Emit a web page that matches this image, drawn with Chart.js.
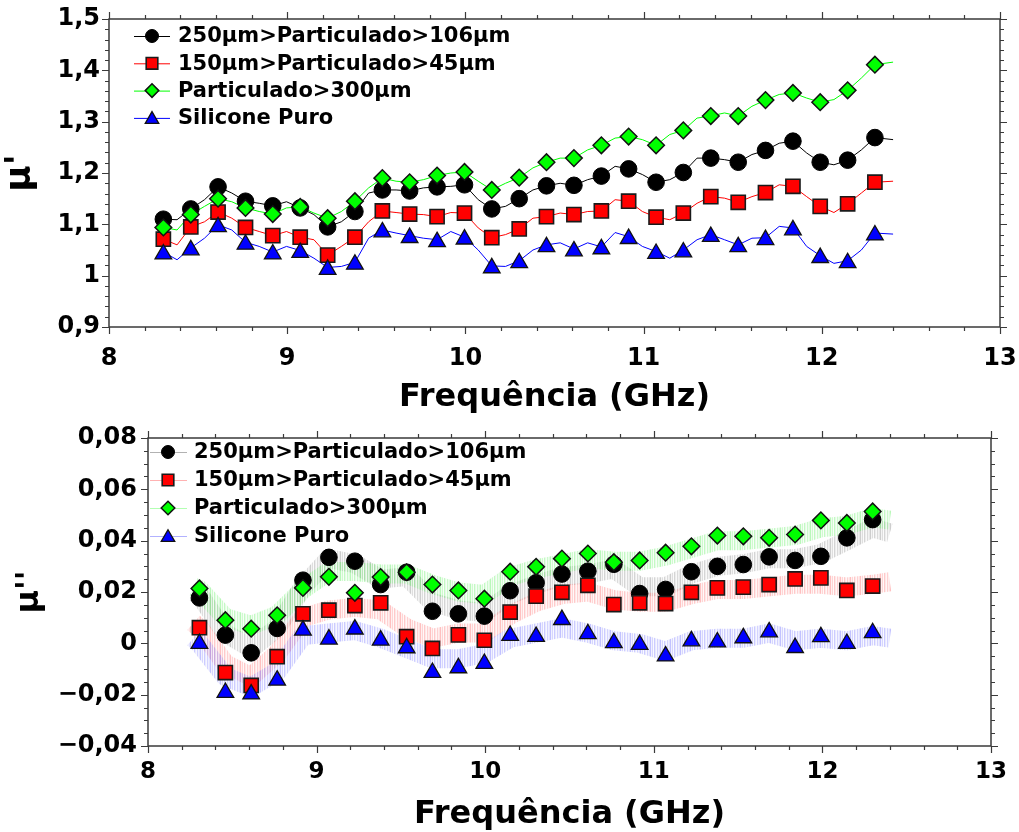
<!DOCTYPE html>
<html><head><meta charset="utf-8">
<script src="https://cdn.jsdelivr.net/npm/chart.js@4.4.1/dist/chart.umd.min.js"></script>
<style>
html,body{margin:0;padding:0;background:#fff;width:1019px;height:832px;overflow:hidden;}
canvas{position:absolute;left:0;}
#c1{top:0}
#c2{top:415px}
</style></head><body>
<canvas id="c1" width="1019" height="415"></canvas>
<canvas id="c2" width="1019" height="417"></canvas>
<script>
// ---------- DATA ----------
const seriesNames = ['250μm>Particulado>106μm', '150μm>Particulado>45μm', 'Particulado>300μm', 'Silicone Puro'];
const xTitle = 'Frequência (GHz)';
const yTitleTop = "μ'";
const yTitleBottom = "μ''";

// marker frequencies (GHz)
const freqMarkers = [8.305, 8.459, 8.612, 8.766, 8.919, 9.073, 9.227, 9.380, 9.534, 9.687, 9.841, 9.995, 10.148, 10.302, 10.455, 10.609, 10.763, 10.916, 11.070, 11.223, 11.377, 11.531, 11.684, 11.838, 11.991, 12.145, 12.298];

// top panel: μ' markers
const muReal_250_106 = [1.110, 1.130, 1.173, 1.145, 1.136, 1.132, 1.095, 1.125, 1.167, 1.165, 1.173, 1.177, 1.130, 1.150, 1.175, 1.176, 1.194, 1.208, 1.182, 1.201, 1.229, 1.221, 1.244, 1.262, 1.221, 1.225, 1.269];
const muReal_150_45 = [1.071, 1.095, 1.124, 1.094, 1.078, 1.075, 1.040, 1.075, 1.126, 1.120, 1.115, 1.122, 1.074, 1.091, 1.115, 1.119, 1.126, 1.145, 1.114, 1.122, 1.154, 1.143, 1.162, 1.174, 1.135, 1.140, 1.182];
const muReal_300 = [1.094, 1.119, 1.150, 1.132, 1.120, 1.134, 1.112, 1.145, 1.190, 1.182, 1.195, 1.202, 1.167, 1.191, 1.221, 1.229, 1.254, 1.271, 1.254, 1.283, 1.311, 1.311, 1.342, 1.356, 1.338, 1.361, 1.411];
const muReal_silicone = [1.042, 1.050, 1.095, 1.061, 1.042, 1.045, 1.012, 1.022, 1.085, 1.074, 1.066, 1.071, 1.015, 1.025, 1.056, 1.048, 1.052, 1.072, 1.043, 1.046, 1.076, 1.056, 1.070, 1.089, 1.035, 1.025, 1.079];

// top panel: μ' measured traces
const freqTrace = [8.27, 8.305, 8.382, 8.459, 8.536, 8.612, 8.689, 8.766, 8.843, 8.919, 8.996, 9.073, 9.150, 9.227, 9.304, 9.380, 9.457, 9.534, 9.611, 9.687, 9.764, 9.841, 9.918, 9.995, 10.072, 10.148, 10.225, 10.302, 10.379, 10.455, 10.532, 10.609, 10.686, 10.763, 10.840, 10.916, 10.993, 11.070, 11.147, 11.223, 11.300, 11.377, 11.454, 11.531, 11.608, 11.684, 11.761, 11.838, 11.915, 11.991, 12.068, 12.145, 12.222, 12.298, 12.40];
const muRealTrace_250_106 = [1.108, 1.110, 1.109, 1.130, 1.148, 1.173, 1.161, 1.145, 1.141, 1.136, 1.144, 1.132, 1.119, 1.095, 1.105, 1.125, 1.161, 1.167, 1.167, 1.165, 1.171, 1.173, 1.174, 1.177, 1.148, 1.130, 1.135, 1.150, 1.167, 1.175, 1.180, 1.176, 1.187, 1.194, 1.213, 1.208, 1.197, 1.182, 1.187, 1.201, 1.229, 1.229, 1.226, 1.221, 1.236, 1.244, 1.258, 1.262, 1.239, 1.221, 1.216, 1.225, 1.245, 1.269, 1.265];
const muRealTrace_150_45 = [1.068, 1.071, 1.060, 1.095, 1.105, 1.124, 1.112, 1.094, 1.086, 1.078, 1.086, 1.075, 1.070, 1.040, 1.057, 1.075, 1.105, 1.126, 1.123, 1.120, 1.119, 1.115, 1.123, 1.122, 1.093, 1.074, 1.080, 1.091, 1.112, 1.115, 1.122, 1.119, 1.125, 1.126, 1.148, 1.145, 1.125, 1.114, 1.109, 1.122, 1.141, 1.154, 1.151, 1.143, 1.154, 1.162, 1.177, 1.174, 1.154, 1.135, 1.123, 1.140, 1.161, 1.182, 1.184];
const muRealTrace_300 = [1.090, 1.094, 1.089, 1.119, 1.135, 1.150, 1.144, 1.132, 1.125, 1.120, 1.132, 1.134, 1.122, 1.112, 1.125, 1.145, 1.171, 1.190, 1.184, 1.182, 1.187, 1.195, 1.200, 1.202, 1.184, 1.167, 1.180, 1.191, 1.210, 1.221, 1.229, 1.229, 1.245, 1.254, 1.268, 1.271, 1.265, 1.254, 1.275, 1.283, 1.307, 1.311, 1.317, 1.311, 1.330, 1.342, 1.353, 1.356, 1.346, 1.338, 1.343, 1.361, 1.385, 1.411, 1.416];
const muRealTrace_silicone = [1.040, 1.046, 1.031, 1.054, 1.073, 1.099, 1.089, 1.065, 1.057, 1.046, 1.057, 1.049, 1.034, 1.016, 1.018, 1.026, 1.073, 1.089, 1.083, 1.078, 1.073, 1.070, 1.086, 1.075, 1.050, 1.019, 1.018, 1.029, 1.050, 1.060, 1.064, 1.052, 1.064, 1.056, 1.084, 1.076, 1.057, 1.047, 1.034, 1.050, 1.070, 1.080, 1.070, 1.060, 1.073, 1.074, 1.096, 1.093, 1.057, 1.039, 1.024, 1.029, 1.050, 1.083, 1.081];

// bottom panel: μ'' markers
const muImag_250_106 = [0.0177, 0.0032, -0.0037, 0.0058, 0.0246, 0.0335, 0.0320, 0.0229, 0.0277, 0.0125, 0.0115, 0.0106, 0.0205, 0.0236, 0.0270, 0.0281, 0.0308, 0.0194, 0.0210, 0.0279, 0.0300, 0.0307, 0.0337, 0.0323, 0.0339, 0.0411, 0.0482];
const muImag_150_45 = [0.0061, -0.0114, -0.0164, -0.0052, 0.0115, 0.0129, 0.0147, 0.0158, 0.0026, -0.0020, 0.0033, 0.0012, 0.0122, 0.0184, 0.0199, 0.0226, 0.0151, 0.0158, 0.0155, 0.0199, 0.0216, 0.0219, 0.0229, 0.0251, 0.0255, 0.0206, 0.0223];
const muImag_300 = [0.0214, 0.0090, 0.0057, 0.0109, 0.0216, 0.0259, 0.0197, 0.0258, 0.0277, 0.0229, 0.0206, 0.0174, 0.0279, 0.0298, 0.0330, 0.0350, 0.0316, 0.0323, 0.0353, 0.0378, 0.0420, 0.0417, 0.0411, 0.0424, 0.0479, 0.0469, 0.0514];
const muImag_silicone = [-0.0001, -0.0192, -0.0198, -0.0144, 0.0051, 0.0016, 0.0055, 0.0012, -0.0018, -0.0114, -0.0096, -0.0079, 0.0030, 0.0026, 0.0092, 0.0037, 0.0002, -0.0005, -0.0050, 0.0009, 0.0005, 0.0021, 0.0044, -0.0017, 0.0025, -0.0001, 0.0041];

// bottom panel: μ'' noisy measured traces (centre of the band)
const freqBand = [8.27, 8.305, 8.459, 8.612, 8.766, 8.919, 9.073, 9.227, 9.380, 9.534, 9.687, 9.841, 9.995, 10.148, 10.302, 10.455, 10.609, 10.763, 10.916, 11.070, 11.223, 11.377, 11.531, 11.684, 11.838, 11.991, 12.145, 12.298, 12.40];
const muImagBand_250_106 = [0.020, 0.019, 0.004, -0.002, 0.006, 0.022, 0.033, 0.031, 0.025, 0.026, 0.016, 0.013, 0.012, 0.019, 0.023, 0.026, 0.027, 0.029, 0.022, 0.022, 0.027, 0.030, 0.031, 0.033, 0.033, 0.035, 0.040, 0.045, 0.043];
const muImagBand_150_45 = [0.008, 0.006, -0.008, -0.013, -0.004, 0.010, 0.013, 0.014, 0.013, 0.006, 0.002, 0.004, 0.004, 0.011, 0.016, 0.019, 0.020, 0.017, 0.016, 0.016, 0.019, 0.021, 0.021, 0.022, 0.023, 0.023, 0.022, 0.023, 0.024];
const muImagBand_300 = [0.022, 0.021, 0.010, 0.007, 0.011, 0.021, 0.028, 0.028, 0.027, 0.027, 0.023, 0.020, 0.019, 0.026, 0.029, 0.031, 0.033, 0.032, 0.032, 0.034, 0.037, 0.040, 0.040, 0.041, 0.042, 0.045, 0.046, 0.049, 0.048];
const muImagBand_silicone = [0.002, 0.000, -0.013, -0.017, -0.011, 0.003, 0.004, 0.005, 0.002, -0.002, -0.006, -0.006, -0.004, 0.002, 0.004, 0.006, 0.004, 0.001, 0.000, -0.003, 0.001, 0.002, 0.002, 0.004, 0.001, 0.002, 0.001, 0.003, 0.002];

// ---------- STYLE ----------
const FONT = '"DejaVu Sans", Verdana, sans-serif';
const pts = (xs, ys) => xs.map((x, i) => ({x: x, y: ys[i]}));
const fmtComma = (v, d) => {
  const r = Number(v.toFixed(d));
  if (r === 0) return '0';
  const s = Math.abs(r).toString().replace('.', ',');
  return (r < 0 ? '\u2212' : '') + s;
};

// hairline texture used to imitate the noisy, faint measured traces
function hairPattern(r, g, b) {
  const alphas = [0.45, 0.1, 0.3, 0.04, 0.38, 0.16, 0.06, 0.33, 0.12, 0.22];
  const c = document.createElement('canvas');
  c.width = alphas.length; c.height = 1;
  const x = c.getContext('2d');
  alphas.forEach((a, i) => { x.fillStyle = 'rgba(' + r + ',' + g + ',' + b + ',' + a + ')'; x.fillRect(i, 0, 1, 1); });
  return x.createPattern(c, 'repeat');
}

const markerStyles = [
  {pointStyle: 'circle', radius: 8.3, bg: '#000000', border: '#000000', bw: 1, lr: 6.5},
  {pointStyle: 'rect', radius: 10, bg: '#ff0000', border: '#1a1a1a', bw: 1.6, lr: 8.2},
  {pointStyle: 'rectRot', radius: 8.3, bg: '#00ff00', border: '#111111', bw: 1.5, lr: 6.8},
  {pointStyle: 'triangle', radius: 9.6, bg: '#0000ff', border: '#111111', bw: 1.3, lr: 7.8}
];

function markerDataset(i, data, order) {
  const m = markerStyles[i];
  return {label: seriesNames[i], data: data, showLine: false,
    pointStyle: m.pointStyle, pointRadius: m.radius, pointHoverRadius: m.radius,
    pointBackgroundColor: m.bg, pointBorderColor: m.border, pointBorderWidth: m.bw,
    backgroundColor: m.bg, borderColor: m.border, order: order};
}
function lineDataset(label, data, color, width, order) {
  return {label: label, data: data, showLine: true, pointRadius: 0, pointHoverRadius: 0,
    borderColor: color, backgroundColor: color, borderWidth: width, tension: 0,
    borderJoinStyle: 'round', borderCapStyle: 'butt', order: order};
}

function framePlugin(spec) {
  return {
    id: 'frame' + spec.id,
    afterDatasetsDraw(chart) {
      const {ctx, chartArea: a, scales: {x, y}} = chart;
      ctx.save();
      ctx.strokeStyle = '#3a3a3a';
      ctx.lineWidth = 1.5;
      ctx.strokeRect(a.left, a.top, a.right - a.left, a.bottom - a.top);
      ctx.lineWidth = 1.2;
      ctx.beginPath();
      for (let k = 0; k <= spec.xCount; k++) {
        const px = Math.round(x.getPixelForValue(spec.xMin + k * spec.xStep)) + 0.5;
        const L = (k % spec.xMajor === 0) ? 7 : 4;
        ctx.moveTo(px, a.bottom); ctx.lineTo(px, a.bottom + L);
        ctx.moveTo(px, a.top); ctx.lineTo(px, a.top - L);
      }
      for (let k = 0; k <= spec.yCount; k++) {
        const py = Math.round(y.getPixelForValue(spec.yMin + k * spec.yStep)) + 0.5;
        const L = (k % spec.yMajor === 0) ? 7 : 4;
        ctx.moveTo(a.left, py); ctx.lineTo(a.left - L, py);
        ctx.moveTo(a.right, py); ctx.lineTo(a.right + L, py);
      }
      ctx.stroke();
      ctx.restore();
    }
  };
}

function legendPlugin(spec) {
  return {
    id: 'legend' + spec.id,
    afterDraw(chart) {
      const ctx = chart.ctx;
      ctx.save();
      seriesNames.forEach((name, i) => {
        const y = spec.y0 + i * spec.dy;
        const m = markerStyles[i];
        ctx.strokeStyle = spec.lineColors[i];
        ctx.lineWidth = 1;
        ctx.beginPath();
        ctx.moveTo(spec.x0, y + 0.5); ctx.lineTo(spec.x1, y + 0.5);
        ctx.stroke();
        ctx.fillStyle = m.bg;
        ctx.strokeStyle = m.border;
        ctx.lineWidth = m.bw;
        Chart.helpers.drawPoint(ctx, {pointStyle: m.pointStyle, radius: m.lr, borderWidth: m.bw, rotation: 0}, spec.xm, y + (m.pointStyle === 'triangle' ? 1.5 : 0));
        ctx.fillStyle = '#000';
        ctx.font = 'bold ' + spec.fontSize + 'px ' + FONT;
        ctx.textAlign = 'left';
        ctx.textBaseline = 'middle';
        ctx.fillText(name, spec.xt, y + 1);
      });
      ctx.restore();
    }
  };
}

const commonOpts = {
  responsive: false, animation: false, devicePixelRatio: 1,
  events: [],
  plugins: {legend: {display: false}, tooltip: {enabled: false}}
};

// ---------- TOP CHART (μ') ----------
new Chart(document.getElementById('c1'), {
  type: 'scatter',
  data: {datasets: [
    markerDataset(3, pts(freqMarkers, muReal_silicone), 1),
    markerDataset(2, pts(freqMarkers, muReal_300), 2),
    markerDataset(1, pts(freqMarkers, muReal_150_45), 3),
    markerDataset(0, pts(freqMarkers, muReal_250_106), 4),
    lineDataset(seriesNames[3] + ' (traço)', pts(freqTrace, muRealTrace_silicone), '#0000ff', 1, 10),
    lineDataset(seriesNames[2] + ' (traço)', pts(freqTrace, muRealTrace_300), '#00ff00', 1, 11),
    lineDataset(seriesNames[1] + ' (traço)', pts(freqTrace, muRealTrace_150_45), '#ff0000', 1, 12),
    lineDataset(seriesNames[0] + ' (traço)', pts(freqTrace, muRealTrace_250_106), '#000000', 1, 13)
  ]},
  options: Object.assign({}, commonOpts, {
    layout: {padding: {left: 0, top: 19, right: 19, bottom: 0}},
    scales: {
      x: {type: 'linear', min: 8, max: 13,
        afterFit(s) { s.height = 88; s.paddingLeft = 0; s.paddingRight = 0; },
        grid: {display: false, drawTicks: false}, border: {display: false},
        ticks: {stepSize: 1, padding: 17, color: '#000', font: {family: FONT, size: 24, weight: 'bold'},
          callback: v => String(Math.round(v))},
        title: {display: true, text: xTitle, color: '#000', padding: {top: 0, bottom: -2},
          font: {family: FONT, size: 32, weight: 'bold'}}},
      y: {type: 'linear', min: 0.9, max: 1.5,
        afterFit(s) { s.width = 109; s.paddingTop = 0; s.paddingBottom = 0; },
        grid: {display: false, drawTicks: false}, border: {display: false},
        ticks: {stepSize: 0.1, padding: 9, color: '#000', font: {family: FONT, size: 24, weight: 'bold'},
          callback: v => fmtComma(v, 2)},
        title: {display: true, text: yTitleTop, color: '#000', padding: {top: -1, bottom: 0},
          font: {family: FONT, size: 36, weight: 'bold'}}}
    }
  }),
  plugins: [
    framePlugin({id: 1, xMin: 8, xStep: 0.2, xCount: 25, xMajor: 5, yMin: 0.9, yStep: 0.02, yCount: 30, yMajor: 5}),
    legendPlugin({id: 1, x0: 134, x1: 170, xm: 152, xt: 178, y0: 36, dy: 27.3, fontSize: 21,
      lineColors: ['#000000', '#ff0000', '#00ff00', '#0000ff']})
  ]
});

// ---------- BOTTOM CHART (μ'') ----------
new Chart(document.getElementById('c2'), {
  type: 'scatter',
  data: {datasets: [
    markerDataset(3, pts(freqMarkers, muImag_silicone), 1),
    markerDataset(2, pts(freqMarkers, muImag_300), 2),
    markerDataset(1, pts(freqMarkers, muImag_150_45), 3),
    markerDataset(0, pts(freqMarkers, muImag_250_106), 4),
    lineDataset(seriesNames[3] + ' (traço)', pts(freqBand, muImagBand_silicone), hairPattern(120, 120, 255), 19, 10),
    lineDataset(seriesNames[2] + ' (traço)', pts(freqBand, muImagBand_300), hairPattern(100, 240, 100), 19, 11),
    lineDataset(seriesNames[1] + ' (traço)', pts(freqBand, muImagBand_150_45), hairPattern(255, 115, 115), 19, 12),
    lineDataset(seriesNames[0] + ' (traço)', pts(freqBand, muImagBand_250_106), hairPattern(145, 145, 145), 19, 13)
  ]},
  options: Object.assign({}, commonOpts, {
    layout: {padding: {left: 0, top: 23, right: 28, bottom: 0}},
    scales: {
      x: {type: 'linear', min: 8, max: 13,
        afterFit(s) { s.height = 86; s.paddingLeft = 0; s.paddingRight = 0; },
        grid: {display: false, drawTicks: false}, border: {display: false},
        ticks: {stepSize: 1, padding: 12, color: '#000', font: {family: FONT, size: 23, weight: 'bold'},
          callback: v => String(Math.round(v))},
        title: {display: true, text: xTitle, color: '#000', padding: {top: 0, bottom: -2},
          font: {family: FONT, size: 32, weight: 'bold'}}},
      y: {type: 'linear', min: -0.04, max: 0.08,
        afterFit(s) { s.width = 148; s.paddingTop = 0; s.paddingBottom = 0; },
        grid: {display: false, drawTicks: false}, border: {display: false},
        ticks: {stepSize: 0.02, padding: 11, color: '#000', font: {family: FONT, size: 24, weight: 'bold'},
          callback: v => fmtComma(v, 3)},
        title: {display: true, text: yTitleBottom, color: '#000', padding: {top: 10, bottom: 0},
          font: {family: FONT, size: 32, weight: 'bold'}}}
    }
  }),
  plugins: [
    framePlugin({id: 2, xMin: 8, xStep: 0.2, xCount: 25, xMajor: 5, yMin: -0.04, yStep: 0.005, yCount: 24, yMajor: 4}),
    legendPlugin({id: 2, x0: 150, x1: 187, xm: 168, xt: 194, y0: 452 - 415, dy: 28, fontSize: 21,
      lineColors: ['rgba(0,0,0,0.3)', 'rgba(255,0,0,0.3)', 'rgba(0,255,0,0.3)', 'rgba(0,0,255,0.3)']})
  ]
});
</script>
</body></html>
